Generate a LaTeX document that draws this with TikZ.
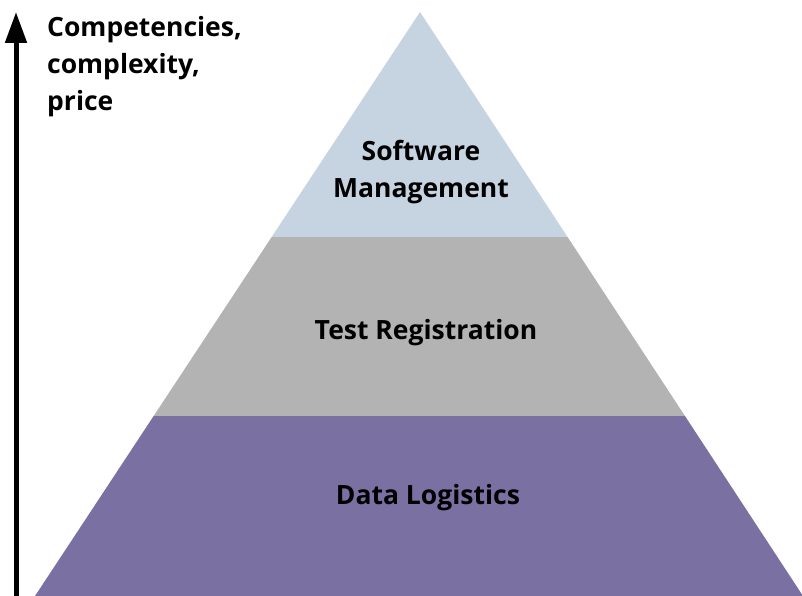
\documentclass[tikz,border=0pt]{standalone}
\usepackage{fontspec}
\setmainfont{Open Sans}
\usetikzlibrary{arrows.meta,calc}
\definecolor{topblue}{HTML}{C6D3E0}
\definecolor{midgray}{HTML}{B3B3B3}
\definecolor{basepurple}{HTML}{7A70A2}
\begin{document}
\begin{tikzpicture}[x=1pt,y=-1pt,
  lbl/.style={font=\fontsize{26.5}{37}\selectfont\bfseries, text=black, align=center, inner sep=0pt}]
\useasboundingbox (0,0) rectangle (802,596);
\coordinate (apex) at (420,12);
\coordinate (bl) at (35,596);
\coordinate (br) at (803,596);
\coordinate (l1) at ($(apex)!{225/584}!(bl)$);
\coordinate (r1) at ($(apex)!{225/584}!(br)$);
\coordinate (l2) at ($(apex)!{404/584}!(bl)$);
\coordinate (r2) at ($(apex)!{404/584}!(br)$);
\fill[basepurple] (l2) -- (r2) -- (br) -- (bl) -- cycle;
\fill[midgray] (l1) -- (r1) -- (r2) -- (l2) -- cycle;
\fill[topblue] (apex) -- (r1) -- (l1) -- cycle;
\coordinate (abot) at (16,596);
\coordinate (atop) at (16,12);
\draw[line width=5pt, -{Triangle[width=21pt,length=31pt]}] (abot) -- (atop);
\node[lbl, align=left, anchor=north west] (axis) at (47,16) {Competencies,\\complexity,\\price};
\node[lbl] (sw) at (421,172) {Software\\Management};
\node[lbl] (tr) at (426,333) {Test Registration};
\node[lbl] (dl) at (428,498) {Data Logistics};
\end{tikzpicture}
\end{document}
